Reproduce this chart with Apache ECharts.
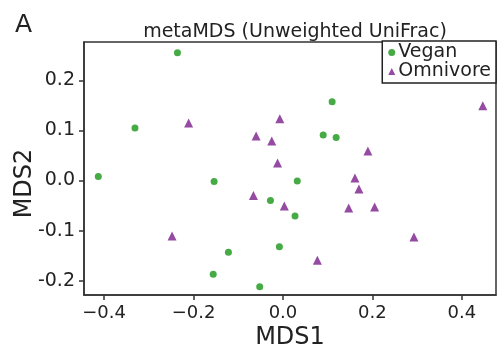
<!DOCTYPE html>
<html>
<head>
<meta charset="utf-8">
<script src="https://cdn.jsdelivr.net/npm/echarts@6/dist/echarts.min.js"></script>
<style>
html,body{margin:0;padding:0;background:#fff;}
#chart{width:500px;height:350px;}
</style>
</head>
<body>
<div id="chart"></div>
<script>
var panelLabel = "A";
var chartTitle = "metaMDS (Unweighted UniFrac)";
var xName = "MDS1";
var yName = "MDS2";
var seriesNames = ["Vegan", "Omnivore"];
var xTicks = [-0.4, -0.2, 0.0, 0.2, 0.4];
var yTicks = [-0.2, -0.1, 0.0, 0.1, 0.2];

var veganX = [-0.236, -0.331, -0.413, 0.110, 0.090, 0.119, -0.154, 0.032, -0.028, 0.027, -0.008, -0.122, -0.156, -0.052];
var veganY = [0.255, 0.105, 0.008, 0.157, 0.091, 0.086, -0.002, -0.001, -0.040, -0.071, -0.132, -0.143, -0.187, -0.212];

var omniX = [-0.211, -0.007, -0.060, -0.025, -0.012, 0.447, 0.190, -0.066, 0.003, -0.248, 0.161, 0.170, 0.147, 0.205, 0.293, 0.077];
var omniY = [0.115, 0.123, 0.089, 0.079, 0.035, 0.149, 0.059, -0.030, -0.051, -0.111, 0.005, -0.017, -0.055, -0.053, -0.113, -0.159];

function zip(a, b) { return a.map(function (v, i) { return [v, b[i]]; }); }

var FONT = "DejaVu Sans";
var chart = echarts.init(document.getElementById('chart'), null, {renderer: 'canvas'});
chart.setOption({
  animation: false,
  backgroundColor: '#ffffff',
  title: [
    {text: panelLabel, left: 10, top: 8, textStyle: {fontFamily: FONT, fontWeight: 'normal', fontSize: 25, color: '#222'}},
    {text: chartTitle, left: 290, textAlign: 'center', top: 18, textStyle: {fontFamily: FONT, fontWeight: 'normal', fontSize: 19, color: '#222'}}
  ],
  legend: {
    orient: 'vertical',
    right: 4,
    top: 41,
    padding: [2, 5, 2, 6],
    itemGap: 0,
    itemWidth: 7,
    itemHeight: 7,
    borderColor: '#222',
    borderWidth: 1.5,
    backgroundColor: '#fff',
    textStyle: {fontFamily: FONT, fontSize: 19, color: '#222', lineHeight: 19, padding: [0, 0, 0, -2]},
    data: [
      {name: seriesNames[0], icon: 'circle'},
      {name: seriesNames[1], icon: 'triangle'}
    ]
  },
  grid: {
    left: 84, right: 4, top: 42, bottom: 55,
    outerBoundsMode: 'none', containLabel: false,
    show: true, borderColor: '#333', borderWidth: 1.5, backgroundColor: '#fff'
  },
  xAxis: {
    type: 'value',
    min: -0.445, max: 0.4765,
    name: xName, nameLocation: 'middle', nameGap: 31, nameMoveOverlap: false,
    nameTextStyle: {fontFamily: FONT, fontSize: 24, color: '#222'},
    axisLine: {show: true, onZero: false, lineStyle: {color: '#333', width: 1.5}},
    axisTick: {show: true, inside: false, length: 5, customValues: xTicks, lineStyle: {color: '#333', width: 1.5}},
    axisLabel: {customValues: xTicks, margin: 9, fontFamily: FONT, fontSize: 18, color: '#222',
      formatter: function (v) { var s = Math.abs(v).toFixed(1); return v < -1e-9 ? '\u2212' + s : s; }},
    splitLine: {show: false}
  },
  yAxis: {
    type: 'value',
    min: -0.2285, max: 0.2764,
    name: yName, nameLocation: 'middle', nameGap: 47, nameRotate: 90, nameMoveOverlap: false,
    nameTextStyle: {fontFamily: FONT, fontSize: 24, color: '#222', padding: [0, 30, 0, 0]},
    axisLine: {show: true, onZero: false, lineStyle: {color: '#333', width: 1.5}},
    axisTick: {show: true, inside: false, length: 5, customValues: yTicks, lineStyle: {color: '#333', width: 1.5}},
    axisLabel: {customValues: yTicks, margin: 9, fontFamily: FONT, fontSize: 19, color: '#222',
      formatter: function (v) { var s = Math.abs(v).toFixed(1); return v < -1e-9 ? '-' + s : s; }},
    splitLine: {show: false}
  },
  series: [
    {name: seriesNames[0], type: 'scatter', symbol: 'circle', symbolSize: 7, data: zip(veganX, veganY), itemStyle: {color: '#46ab44', opacity: 1}},
    {name: seriesNames[1], type: 'scatter', symbol: 'triangle', symbolSize: 9, data: zip(omniX, omniY), itemStyle: {color: '#944ba1', opacity: 1}}
  ]
});
</script>
</body>
</html>
